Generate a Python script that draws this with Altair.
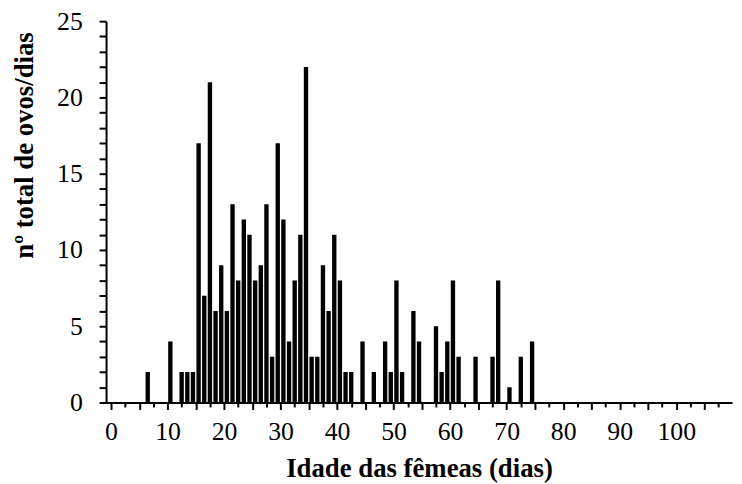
import altair as alt
import pandas as pd

# Female age (days) and total eggs per day
days = [6, 10, 12, 13, 14, 15, 16, 17, 18, 19, 20, 21, 22, 23, 24, 25, 26, 27, 28, 29,
        30, 31, 32, 33, 34, 35, 36, 37, 38, 39, 40, 41, 42, 44, 46, 48, 49, 50, 51, 53,
        54, 57, 58, 59, 60, 61, 64, 67, 68, 70, 72, 74]
eggs = [2, 4, 2, 2, 2, 17, 7, 21, 6, 9, 6, 13, 8, 12, 11, 8, 9, 13, 3, 17,
        12, 4, 8, 11, 22, 3, 3, 9, 6, 11, 8, 2, 2, 4, 2, 4, 2, 8, 2, 6,
        4, 5, 2, 4, 8, 3, 3, 3, 8, 1, 3, 4]

x_major = list(range(0, 110, 5))
x_minor = [v + 2.5 for v in range(0, 110, 5)]
y_ticks = list(range(0, 26))

df = pd.DataFrame({"dia": days, "ovos": eggs})

FONT = "Liberation Serif"
xscale = alt.Scale(domain=[0, 109], nice=False, zero=False)
yscale = alt.Scale(domain=[0, 25], nice=False)

base = alt.Chart(df).transform_calculate(pos="datum.dia + 0.5")

bars = base.mark_bar(color="black", size=4.4).encode(
    x=alt.X(
        "pos:Q",
        scale=xscale,
        axis=alt.Axis(
            values=x_major,
            labelExpr="datum.value % 10 == 0 ? datum.label : ''",
            labelOverlap=False,
            labelFlush=False,
            tickSize=7,
            tickWidth=2,
            domainWidth=2,
            labelFont=FONT,
            labelFontSize=26,
            labelColor="black",
            labelBaseline="alphabetic",
            labelPadding=30,
            title="Idade das fêmeas (dias)",
            titleFont=FONT,
            titleFontSize=27,
            titleFontWeight="bold",
            titleColor="black",
            titleBaseline="alphabetic",
            titleY=75,
            grid=False,
            orient="bottom",
        ),
    ),
    y=alt.Y(
        "ovos:Q",
        scale=yscale,
        axis=alt.Axis(
            values=y_ticks,
            labelExpr="datum.value % 5 == 0 ? datum.label : ''",
            labelOverlap=False,
            labelFlush=False,
            tickSize=7,
            tickWidth=2,
            domainWidth=2,
            labelFont=FONT,
            labelFontSize=26,
            labelColor="black",
            labelPadding=17,
            title="nº total de ovos/dias",
            titleFont=FONT,
            titleFontSize=27,
            titleFontWeight="bold",
            titleColor="black",
            titleBaseline="alphabetic",
            titleAlign="center",
            titleAngle=270,
            titleX=-74,
            titleY=125,
            grid=False,
        ),
    ),
)

minor = base.mark_point(opacity=0).encode(
    x=alt.X(
        "pos:Q",
        scale=xscale,
        axis=alt.Axis(
            values=x_minor,
            labels=False,
            domain=False,
            tickSize=4.5,
            tickWidth=2,
            title=None,
            grid=False,
            orient="bottom",
        ),
    ),
)

chart = (
    alt.layer(bars, minor)
    .resolve_axis(x="independent")
    .resolve_scale(x="shared")
    .properties(
        width=632,
        height=385,
        padding={"left": 99, "top": 11, "right": 2, "bottom": 80},
        autosize=alt.AutoSizeParams(type="none"),
        background="white",
    )
    .configure_view(stroke=None)
    .configure_axis(domainColor="black", tickColor="black")
)

chart.save("out.html", embed_options={"renderer": "svg", "actions": False})
